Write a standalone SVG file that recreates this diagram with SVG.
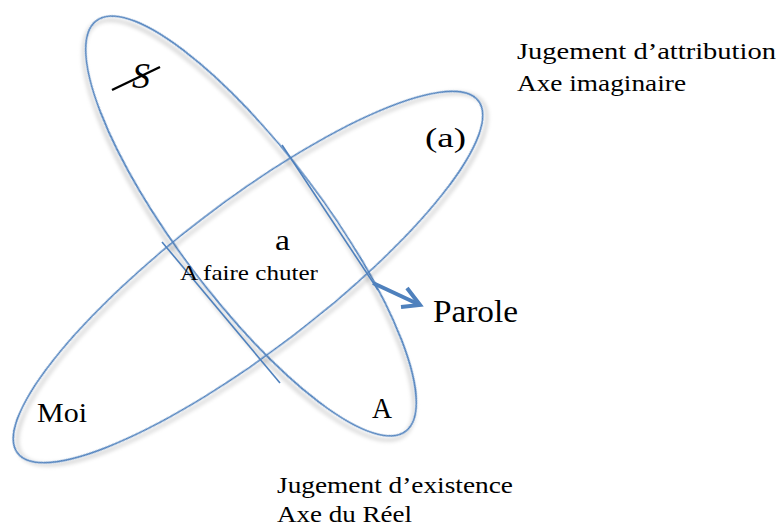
<svg xmlns="http://www.w3.org/2000/svg" width="776" height="528" viewBox="0 0 776 528">
<defs>
<filter id="sh" x="-20%" y="-20%" width="140%" height="140%">
<feDropShadow dx="2" dy="4" stdDeviation="2" flood-color="#000" flood-opacity="0.35"/>
</filter>
<style>
.e{fill:none;stroke:#4f81bd;stroke-width:1.6;filter:url(#sh)}
.l{fill:none;stroke:#4f81bd;stroke-width:1.6}
.ar{fill:none;stroke:#4f81bd;stroke-width:4;stroke-linecap:butt;stroke-linejoin:miter}
text{font-family:"Liberation Serif","DejaVu Serif",serif;fill:#000}
</style>
</defs>
<rect width="776" height="528" fill="#fff"/>
<g id="ellipse-symbolique">
<ellipse class="e" cx="251" cy="226" rx="257" ry="73" transform="rotate(53 251 226)"/>
</g>
<g id="ellipse-imaginaire">
<ellipse class="e" cx="248" cy="277" rx="290" ry="74" transform="rotate(-37.4 248 277)"/>
</g>
<g id="connectors">
<line class="l" x1="282" y1="145" x2="378" y2="290"/>
<line class="l" x1="162" y1="242" x2="280" y2="383"/>
<line class="ar" x1="373" y1="283" x2="418" y2="304"/>
<polyline class="ar" points="407,288 420,305 401,307"/>
</g>
<g id="s-barre">
<text x="132" y="88" font-size="36" font-style="italic">S</text>
<line x1="112" y1="90" x2="160" y2="67" stroke="#000" stroke-width="2.4"/>
</g>
<g id="label-a-paren"><text x="425" y="147" font-size="28" textLength="41" lengthAdjust="spacingAndGlyphs">(a)</text></g>
<g id="label-a"><text x="275" y="250" font-size="30" textLength="15" lengthAdjust="spacingAndGlyphs">a</text></g>
<g id="label-chuter"><text x="180" y="280" font-size="21" textLength="138" lengthAdjust="spacingAndGlyphs">A faire chuter</text></g>
<g id="label-parole"><text x="433" y="322" font-size="31" textLength="85" lengthAdjust="spacingAndGlyphs">Parole</text></g>
<g id="label-moi"><text x="37" y="422" font-size="28" textLength="50" lengthAdjust="spacingAndGlyphs">Moi</text></g>
<g id="label-A"><text x="372" y="418" font-size="29" textLength="20" lengthAdjust="spacingAndGlyphs">A</text></g>
<g id="label-attribution">
<text x="517" y="59" font-size="23" textLength="259" lengthAdjust="spacingAndGlyphs">Jugement d’attribution</text>
<text x="517" y="91" font-size="23" textLength="169" lengthAdjust="spacingAndGlyphs">Axe imaginaire</text>
</g>
<g id="label-existence">
<text x="277" y="493" font-size="23" textLength="236" lengthAdjust="spacingAndGlyphs">Jugement d’existence</text>
<text x="277" y="522" font-size="23" textLength="135" lengthAdjust="spacingAndGlyphs">Axe du Réel</text>
</g>
</svg>
